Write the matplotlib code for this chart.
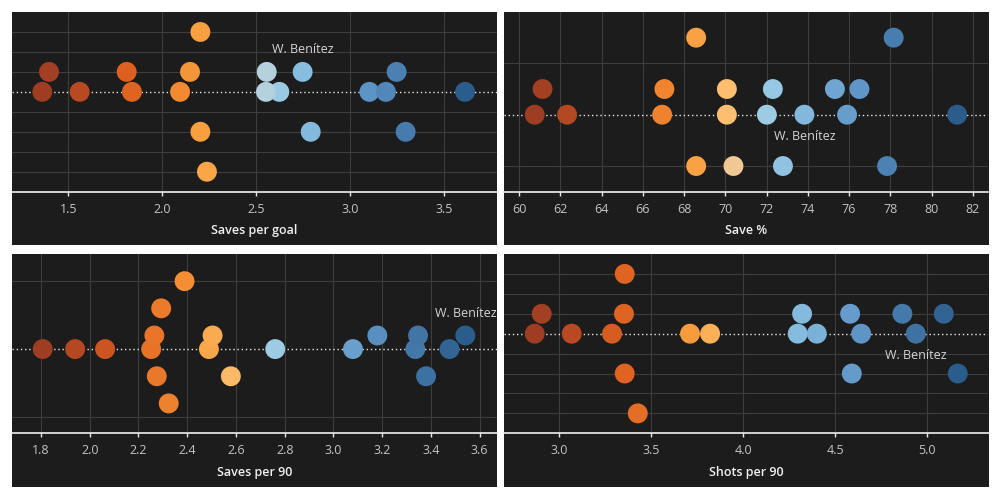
import matplotlib.pyplot as plt
import numpy as np
from matplotlib.colors import LinearSegmentedColormap, Normalize
from matplotlib.patches import Rectangle

# --- data: one dot per goalkeeper, row = stacking level of the swarm ---
spg_vals = [1.361, 1.397, 1.560, 1.810, 1.838, 2.094, 2.147, 2.202, 2.202, 2.237,
            2.622, 2.551, 2.555, 2.746, 2.789, 3.101, 3.189, 3.246, 3.294, 3.610]
spg_rows = [0, 1, 0, 1, 0, 0, 1, 3, -2, -4,
            0, 0, 1, 1, -2, 0, 0, 1, -2, 0]

save_pct_vals = [60.75, 61.13, 62.32, 66.93, 67.04, 68.58, 68.58, 70.07, 70.07, 70.39,
                 72.01, 72.30, 72.79, 73.83, 75.31, 75.90, 76.50, 77.84, 78.16, 81.24]
save_pct_rows = [0, 1, 0, 0, 1, 3, -2, 1, 0, -2,
                 0, 1, -2, 0, 1, 0, 1, -2, 3, 0]

sp90_vals = [1.807, 1.940, 2.063, 2.252, 2.265, 2.275, 2.293, 2.324, 2.389, 2.489,
             2.504, 2.579, 2.761, 3.080, 3.180, 3.336, 3.347, 3.380, 3.476, 3.541]
sp90_rows = [0, 0, 0, 0, 1, -2, 3, -4, 5, 0,
             1, -2, 0, 0, 1, 0, 1, -2, 0, 1]

shots90_vals = [2.866, 2.904, 3.067, 3.286, 3.351, 3.355, 3.355, 3.426, 3.710, 3.819,
                4.295, 4.319, 4.399, 4.580, 4.589, 4.640, 4.864, 4.937, 5.089, 5.165]
shots90_rows = [0, 1, 0, 0, 1, 3, -2, -4, 0, 0,
                0, 1, 0, 1, -2, 0, 1, 0, 1, -2]

metric_names = ['Saves per goal', 'Save %', 'Saves per 90', 'Shots per 90']
highlight_name = 'W. Benítez'
highlight_vals = [2.746, 73.83, 3.541, 4.937]

spg_ticks = [1.5, 2.0, 2.5, 3.0, 3.5]
save_pct_ticks = [60, 62, 64, 66, 68, 70, 72, 74, 76, 78, 80, 82]
sp90_ticks = [1.8, 2.0, 2.2, 2.4, 2.6, 2.8, 3.0, 3.2, 3.4, 3.6]
shots90_ticks = [3.0, 3.5, 4.0, 4.5, 5.0]

# Tableau-like orange-blue diverging palette
cmap = LinearSegmentedColormap.from_list('orange_blue', [
    (0.0, '#9e3d22'), (0.09, '#b94a22'), (0.2, '#dd6020'), (0.325, '#f38a32'),
    (0.375, '#f8a040'), (0.455, '#fdbf6f'), (0.5, '#d8dad6'), (0.55, '#9ccbe4'),
    (0.618, '#86bddf'), (0.774, '#5f95c6'), (0.84, '#4a80b2'), (1.0, '#2b5d8c')])

bg = '#1c1c1c'
grid_col = '#3e3e3e'
text_col = '#d4d4d4'

plt.rcParams['font.family'] = ['Open Sans', 'DejaVu Sans']

fig = plt.figure(figsize=(10, 5), dpi=100)
fig.patch.set_facecolor('white')

# (values, rows, ticks, tick format, xlim, ylim, row grid step, label side,
#  left, width, strip bottom, plot bottom, plot top)
panels = [
    (spg_vals, spg_rows, spg_ticks, '{:.1f}', (1.20, 3.78), (-5, 4), 1, 1,
     0.012, 0.485, 0.51, 0.6166, 0.976),
    (save_pct_vals, save_pct_rows, save_pct_ticks, '{:.0f}', (59.26, 82.76), (-3, 4), 2, -1,
     0.504, 0.4845, 0.51, 0.6166, 0.976),
    (sp90_vals, sp90_rows, sp90_ticks, '{:.1f}', (1.681, 3.671), (-6.2, 7), 5, 1,
     0.012, 0.485, 0.0254, 0.1334, 0.492),
    (shots90_vals, shots90_rows, shots90_ticks, '{:.1f}', (2.699, 5.332), (-5, 4), 1, -1,
     0.504, 0.4845, 0.0254, 0.1334, 0.492),
]

for i, (vals, rows, ticks, fmt, xlim, ylim, step, side,
        left, width, strip_b, plot_b, plot_t) in enumerate(panels):
    # dark card behind plot + label strip
    card = Rectangle((left, strip_b), width, plot_t - strip_b,
                     transform=fig.transFigure, facecolor=bg, edgecolor='none')
    card.set_zorder(-5)
    fig.add_artist(card)

    ax = fig.add_axes([left, plot_b, width, plot_t - plot_b])
    ax.set_facecolor(bg)

    vals = np.array(vals)
    norm = Normalize(vmin=vals.min(), vmax=vals.max())
    ax.scatter(vals, rows, s=205, c=cmap(norm(vals)), linewidths=0, zorder=3)

    # highlighted keeper
    k = int(np.argmin(np.abs(vals - highlight_vals[i])))
    ax.annotate(highlight_name, (vals[k], rows[k]), xytext=(0, 16 * side),
                textcoords='offset points', ha='center', va='center',
                color=text_col, fontsize=9, zorder=4)

    ax.axhline(0, color='#e8e8e8', linestyle=(0, (1, 2)), linewidth=1, zorder=2)

    ax.set_xlim(*xlim)
    ax.set_ylim(*ylim)
    ax.set_xticks(ticks)
    ax.set_xticklabels([fmt.format(t) for t in ticks])
    ax.set_yticks([y for y in np.arange(-10, 11, step) if ylim[0] < y < ylim[1] and y != 0])
    ax.tick_params(axis='y', left=False, labelleft=False)
    ax.tick_params(axis='x', length=3, width=1, color='#e8e8e8', pad=5,
                   labelsize=9, labelcolor='#c4c4c4')
    ax.grid(True, color=grid_col, linewidth=0.8, zorder=1)
    ax.set_axisbelow(True)

    for s in ['top', 'right', 'left']:
        ax.spines[s].set_visible(False)
    ax.spines['bottom'].set_color('#f0f0f0')
    ax.spines['bottom'].set_linewidth(1.2)

    ax.annotate(metric_names[i], (0.5, 0), xycoords='axes fraction',
                xytext=(0, -28), textcoords='offset points', ha='center',
                va='center', color='#f0f0f0', fontsize=9, fontweight='semibold')

fig.savefig('out.png', dpi=100, facecolor='white')
